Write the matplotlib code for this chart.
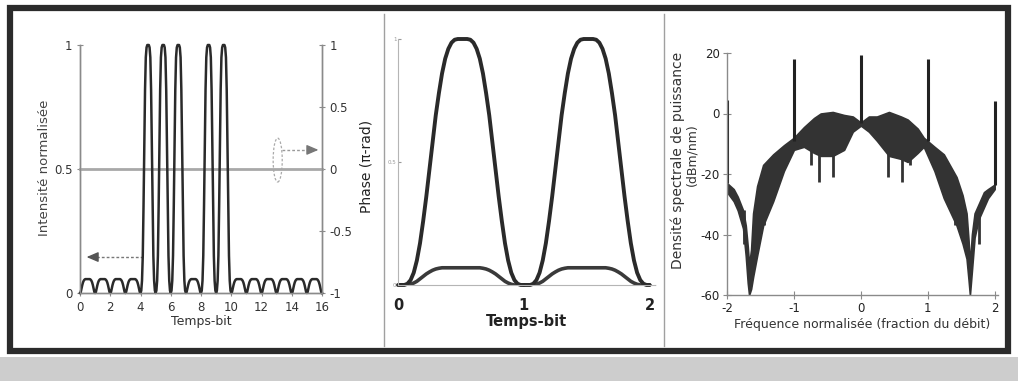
import numpy as np
import matplotlib.pyplot as plt
from matplotlib.patches import Ellipse, Rectangle
from matplotlib.lines import Line2D

W, H = 1018, 381

# ---- panel 1 : 16 bit slots, 'P' = pulse, 'b' = small residual bump
bit_pattern = list('bbbbPPPbPPbbbbbb')
slot_t = [0, .05, .1, .15, .2, .25, .3, .35, .4, .45, .5,
          .55, .6, .65, .7, .75, .8, .85, .9, .95, 1]
pulse_y = [0, .01, .05, .15, .35, .6, .82, .95, .99, 1, 1,
           1, .99, .95, .82, .6, .35, .15, .05, .01, 0]
bump_y = [0, .004, .018, .032, .043, .05, .054, .056, .056, .056, .056,
          .056, .056, .056, .054, .05, .043, .032, .018, .004, 0]
phase_t = [0, 16]
phase_val = [0, 0]
p1_xticks = [0, 2, 4, 6, 8, 10, 12, 14, 16]
p1_left_ticks = [0, 0.5, 1]
p1_left_labels = ['0', '0.5', '1']
p1_right_ticks = [-1, -0.5, 0, 0.5, 1]
p1_right_labels = ['-1', '-0.5', '0', '0.5', '1']

# ---- panel 2 : two bit periods, large and small pulse
p2_t = [0, .025, .05, .075, .1, .125, .15, .175, .2, .225, .25, .275, .3,
        .325, .35, .375, .4, .425, .45, .475, .5, .525, .55, .575, .6, .625,
        .65, .675, .7, .725, .75, .775, .8, .825, .85, .875, .9, .925, .95,
        .975, 1]
p2_big = [0, 0, 0, .005, .02, .05, .1, .17, .26, .36, .47, .58, .69,
          .78, .86, .92, .96, .985, .997, 1, 1, 1, 1, .997, .985, .96,
          .92, .86, .78, .69, .58, .47, .36, .26, .17, .1, .05, .02, .005,
          0, 0]
p2_small = [0, 0, 0, 0, .003, .008, .015, .025, .035, .045, .053, .06, .065,
            .068, .07, .07, .07, .07, .07, .07, .07, .07, .07, .07, .07, .07,
            .07, .068, .065, .06, .053, .045, .035, .025, .015, .008, .003, 0,
            0, 0, 0]
p2_periods = [0, 1]
p2_xticks = [0, 1, 2]
p2_yticks = [0, 0.5, 1]

# ---- panel 3 : power spectral density (dBm/nm)
freq = [-2.0, -1.9, -1.84, -1.76, -1.72, -1.69, -1.67, -1.64, -1.61, -1.55,
        -1.46, -1.31, -1.15, -1.0, -0.85, -0.7, -0.6, -0.42, -0.25, -0.12,
        0.0,
        0.12, 0.24, 0.42, 0.6, 0.7, 0.85, 0.94, 1.1, 1.24,
        1.43, 1.52, 1.58, 1.61, 1.63, 1.66, 1.7, 1.76, 1.84, 1.9, 2.0]
psd_upper = [-23, -25, -27.5, -32, -37, -44, -50, -45, -33, -24,
             -17, -13.5, -10.5, -8, -4.5, -1.5, 0, 0.5, -0.5, -1,
             -3,
             -1, -1, 0.5, -1, -2, -5, -8, -11, -13.5,
             -21, -27, -33, -42, -50, -40, -33, -30, -26, -25, -23.5]
psd_lower = [-26, -29, -32, -38, -47, -56, -60, -58, -54, -47,
             -37, -29, -19, -12, -11, -13, -14, -14, -12, -6,
             -4,
             -6, -9, -14, -15, -16, -13, -11, -19, -28,
             -37, -43, -48, -55, -60, -52, -41, -35, -31, -28, -25]
line_f = [-2, -1, 0, 1, 2]
line_peak = [4.5, 18, 19.5, 18, 4]
line_base = [-23, -9, -3, -9, -23.5]
dip_f = [-1.75, -1.45, -0.75, -0.62, -0.42, 0.41, 0.62, 0.73, 1.40, 1.76]
dip_bottom = [-43, -37, -17, -22.5, -21, -21, -22.5, -17, -37, -43]
dip_top = [-32, -20, -5, -3, -1, -1, -3, -5, -22, -32]
p3_xticks = [-2, -1, 0, 1, 2]
p3_xlabels = ['-2', '-1', '0', '1', '2']
p3_yticks = [-60, -40, -20, 0, 20]
p3_ylabels = ['-60', '-40', '-20', '0', '20']

ink = '#2a2a2a'
axis_c = '#8a8a8a'
txt = '#333333'

fig = plt.figure(figsize=(W / 100, H / 100), dpi=100)

# ================= panel 1
ax1 = fig.add_axes([80 / W, 1 - 293 / H, 242 / W, 248 / H])
t1, y1 = [], []
for k, b in enumerate(bit_pattern):
    t1 += [s + k for s in slot_t]
    y1 += pulse_y if b == 'P' else bump_y
ax1.set_xlim(0, 16)
ax1.set_ylim(0, 1)
ax2 = ax1.twinx()
ax2.set_ylim(-1, 1)
ax2.plot(phase_t, phase_val, color='#a8a8a8', lw=2, clip_on=False)
ax2.plot(t1, np.array(y1) * 2 - 1, color=ink, lw=1.8, clip_on=False)
for a in (ax1, ax2):
    a.spines['top'].set_visible(False)
    for s in ('left', 'right', 'bottom'):
        a.spines[s].set_color(axis_c)
        a.spines[s].set_linewidth(1)
    a.tick_params(direction='inout', length=5, width=0.8, color=axis_c,
                  labelsize=8.5, labelcolor=txt, pad=3)
ax1.set_xticks(p1_xticks)
ax1.set_yticks(p1_left_ticks)
ax1.set_yticklabels(p1_left_labels)
ax2.set_yticks(p1_right_ticks)
ax2.set_yticklabels(p1_right_labels)
ax1.set_xlabel('Temps-bit', fontsize=9, color=txt, labelpad=1)
fig.text(45 / W, 1 - 168 / H, 'Intensité normalisée', rotation=90,
         ha='center', va='center', fontsize=9.5, color='#444')
fig.text(367 / W, 1 - 166 / H, 'Phase (π-rad)', rotation=90,
         ha='center', va='center', fontsize=10, color='#222')
# arrows / ellipse
ax1.plot([4.15, 0.9], [0.145, 0.145], color='#777', lw=1, ls=(0, (2, 1.5)))
ax1.annotate('', xy=(0.25, 0.145), xytext=(1.0, 0.145),
             arrowprops=dict(arrowstyle='-|>,head_length=0.7,head_width=0.3',
                             color='#555', lw=1))
ax1.add_patch(Ellipse((13.07, 0.536), 0.6, 0.177, fill=False, ec='#aaa',
                      lw=0.9, ls=(0, (2, 1.5))))
ax1.plot([13.35, 15.4], [0.577, 0.577], color='#999', lw=1, ls=(0, (2, 1.5)))
ax1.annotate('', xy=(15.95, 0.577), xytext=(15.3, 0.577),
             arrowprops=dict(arrowstyle='-|>,head_length=0.7,head_width=0.3',
                             color='#777', lw=1))

# ================= panel 2
ax3 = fig.add_axes([398 / W, 1 - 285 / H, 258 / W, 246 / H])
for p in p2_periods:
    ax3.plot([s + p for s in p2_t], p2_small, color='#3a3a3a', lw=2.6,
             solid_capstyle='round', solid_joinstyle='round')
    ax3.plot([s + p for s in p2_t], p2_big, color=ink, lw=2.8,
             solid_capstyle='round', solid_joinstyle='round', clip_on=False)
ax3.set_xlim(0, 2.05)
ax3.set_ylim(0, 1)
for s in ('top', 'right'):
    ax3.spines[s].set_visible(False)
for s in ('left', 'bottom'):
    ax3.spines[s].set_color('#b5b5b5')
    ax3.spines[s].set_linewidth(0.8)
    ax3.spines[s].set_linestyle((0, (1.5, 1)))
ax3.set_xticks(p2_xticks)
ax3.set_yticks(p2_yticks)
ax3.set_yticklabels(['0', '0.5', '1'])
ax3.tick_params(axis='x', length=0, labelsize=10.5, labelcolor='#222', pad=9)
ax3.tick_params(axis='y', length=2, direction='in', color='#999',
                labelsize=4, labelcolor='#999', pad=1)
for lab in ax3.get_xticklabels():
    lab.set_fontweight('bold')
ax3.set_xlabel('Temps-bit', fontsize=10.5, fontweight='bold', color='#222',
               labelpad=1)

# ================= panel 3
ax4 = fig.add_axes([727 / W, 1 - 295 / H, 271 / W, 242 / H])
ax4.fill_between(freq, psd_lower, psd_upper, color='#333333', lw=1.2,
                 edgecolor='#333333')
ax4.vlines(dip_f, dip_bottom, dip_top, color='#333333', lw=2)
ax4.vlines(line_f, line_base, line_peak, color='#222222', lw=2.2)
ax4.set_xlim(-2, 2.05)
ax4.set_ylim(-60, 20)
for s in ('top', 'right'):
    ax4.spines[s].set_visible(False)
for s in ('left', 'bottom'):
    ax4.spines[s].set_color(axis_c)
    ax4.spines[s].set_linewidth(1)
ax4.set_xticks(p3_xticks)
ax4.set_xticklabels(p3_xlabels)
ax4.set_yticks(p3_yticks)
ax4.set_yticklabels(p3_ylabels)
ax4.tick_params(direction='inout', length=6, width=0.8, color=axis_c,
                labelsize=8.5, labelcolor='#222', pad=2)
ax4.set_xlabel('Fréquence normalisée (fraction du débit)', fontsize=9,
               color=txt, labelpad=2)
fig.text(678 / W, 1 - 160 / H, 'Densité spectrale de puissance',
         rotation=90, ha='center', va='center', fontsize=10, color=txt)
fig.text(692 / W, 1 - 155 / H, '(dBm/nm)',
         rotation=90, ha='center', va='center', fontsize=9, color=txt)

# ================= frame, separators, bottom band
fig.add_artist(Rectangle((0, 0), 1, (H - 357) / H, transform=fig.transFigure,
                         fc='#cdcdcd', ec='none', zorder=0))
fig.add_artist(Rectangle((10 / W, 1 - 351 / H), 998 / W, 343 / H,
                         transform=fig.transFigure, fill=False, lw=4.5,
                         ec='#2b2b2b'))
for xs in (384, 664):
    fig.add_artist(Line2D([xs / W, xs / W], [1 - 346 / H, 1 - 14 / H],
                          transform=fig.transFigure, color='#a0a0a0', lw=1))

fig.savefig('out.png', dpi=100)
